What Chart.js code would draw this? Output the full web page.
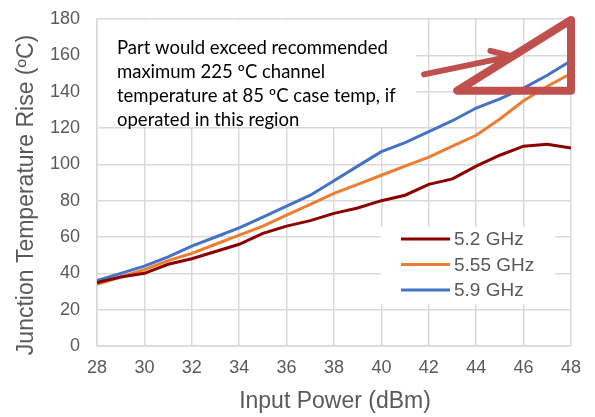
<!DOCTYPE html>
<html>
<head>
<meta charset="utf-8">
<script src="https://cdn.jsdelivr.net/npm/chart.js@4/dist/chart.umd.min.js"></script>
<style>
  html, body { margin: 0; padding: 0; background: #fff; }
  #wrap { width: 595px; height: 417px; }
</style>
</head>
<body>
<div id="wrap"><canvas id="tj-chart" width="595" height="417"></canvas></div>
<script>
// Datos
var potencias = [28, 29, 30, 31, 32, 33, 34, 35, 36, 37, 38, 39, 40, 41, 42, 43, 44, 45, 46, 47, 48];
var serie52 = [35, 38, 40, 45, 48, 52, 56, 62, 66, 69, 73, 76, 80, 83, 89, 92, 99, 105, 110, 111, 109];
var serie555 = [34, 38, 42, 47, 51, 56, 61, 66, 72, 78, 84, 89, 94, 99, 104, 110, 116, 125, 135, 143, 150];
var serie59 = [36, 40, 44, 49, 55, 60, 65, 71, 77, 83, 91, 99, 107, 112, 118, 124, 131, 136, 142, 149, 157];
var etiquetas = ["5.2 GHz", "5.55 GHz", "5.9 GHz"];
var colores = ["#8B0000", "#ED7D31", "#4472C4"];
var notaTexto = [
  "Part would exceed recommended",
  "maximum 225 \u00BAC channel",
  "temperature at 85 \u00BAC case temp, if",
  "operated in this region"
];

function puntos(valores) {
  return potencias.map(function (p, i) { return { x: p, y: valores[i] }; });
}

var gris = "#595959";
var rejilla = "#D9D9D9";

// Caja de texto, flecha y triángulo
var notaPlugin = {
  id: "nota",
  beforeDatasetsDraw: function (chart) {
    var c = chart.ctx;
    var a = chart.chartArea;
    c.save();
    c.fillStyle = "#fff";
    c.fillRect(a.left + 1, a.top + 1, 415 - a.left, 126 - a.top);
    c.fillStyle = "#000";
    c.font = "18.5px Lato";
    c.textBaseline = "alphabetic";
    for (var i = 0; i < notaTexto.length; i++) {
      c.fillText(notaTexto[i], 117, 54 + i * 24);
    }
    c.restore();
  },
  afterDatasetsDraw: function (chart) {
    var c = chart.ctx;
    var x = chart.scales.x, y = chart.scales.y;
    c.save();
    c.strokeStyle = "#C0504D";
    c.lineJoin = "round";
    c.lineCap = "round";
    // flecha
    c.lineWidth = 6;
    c.beginPath();
    c.moveTo(x.getPixelForValue(41.8), y.getPixelForValue(149.5));
    c.lineTo(x.getPixelForValue(45.3), y.getPixelForValue(159));
    c.stroke();
    c.beginPath();
    c.moveTo(x.getPixelForValue(44.6), y.getPixelForValue(162.5));
    c.lineTo(x.getPixelForValue(45.5), y.getPixelForValue(159.5));
    c.lineTo(x.getPixelForValue(44.9), y.getPixelForValue(156));
    c.stroke();
    // triángulo
    c.lineWidth = 8;
    c.beginPath();
    c.moveTo(x.getPixelForValue(48), y.getPixelForValue(179.5));
    c.lineTo(x.getPixelForValue(43.2), y.getPixelForValue(140.5));
    c.lineTo(x.getPixelForValue(48), y.getPixelForValue(140.5));
    c.closePath();
    c.stroke();
    c.restore();

    // leyenda
    c.save();
    c.fillStyle = "#fff";
    c.fillRect(381, 227, 174, 77);
    c.font = "19px 'Liberation Sans'";
    c.textBaseline = "middle";
    for (var k = 0; k < etiquetas.length; k++) {
      var yy = 239 + k * 25.5;
      c.strokeStyle = colores[k];
      c.lineWidth = 3;
      c.beginPath();
      c.moveTo(401, yy);
      c.lineTo(450, yy);
      c.stroke();
      c.fillStyle = gris;
      c.fillText(etiquetas[k], 454, yy + 1);
    }
    c.restore();
  },
  afterDraw: function (chart) {
    var c = chart.ctx;
    c.save();
    c.fillStyle = gris;
    c.font = "23px 'Liberation Sans'";
    c.textAlign = "center";
    c.textBaseline = "alphabetic";
    c.fillText("Input Power (dBm)", 335, 408);
    c.translate(33, 195);
    c.rotate(-Math.PI / 2);
    c.fillText("Junction Temperature Rise (\u00BAC)", 0, 0);
    c.restore();
  }
};

var canvas = document.getElementById("tj-chart");
var ctx = canvas.getContext("2d");

var data = {
  datasets: etiquetas.map(function (et, i) {
    return {
      label: et,
      data: puntos([serie52, serie555, serie59][i]),
      borderColor: colores[i],
      backgroundColor: colores[i],
      borderWidth: 3,
      pointRadius: 0,
      tension: 0
    };
  })
};

var options = {
  responsive: false,
  animation: false,
  layout: { padding: { top: 19, right: 24, left: 0, bottom: 0 } },
  plugins: {
    legend: { display: false },
    tooltip: { enabled: false }
  },
  scales: {
    x: {
      type: "linear",
      min: 28,
      max: 48,
      ticks: { stepSize: 2, color: gris, font: { family: "'Liberation Sans'", size: 18 }, padding: 11 },
      grid: { color: rejilla, lineWidth: 1.5, drawTicks: false },
      border: { color: rejilla, width: 1.5 },
      afterFit: function (s) { s.height = 71; s.paddingLeft = 0; s.paddingRight = 0; }
    },
    y: {
      min: 0,
      max: 180,
      ticks: { stepSize: 20, color: gris, font: { family: "'Liberation Sans'", size: 18 }, padding: 17 },
      grid: { color: rejilla, lineWidth: 1.5, drawTicks: false },
      border: { color: rejilla, width: 1.5 },
      afterFit: function (s) { s.width = 97; s.paddingTop = 0; s.paddingBottom = 0; }
    }
  }
};

var chart = new Chart(ctx, {
  type: "line",
  data: data,
  options: options,
  plugins: [notaPlugin]
});
</script>
</body>
</html>
